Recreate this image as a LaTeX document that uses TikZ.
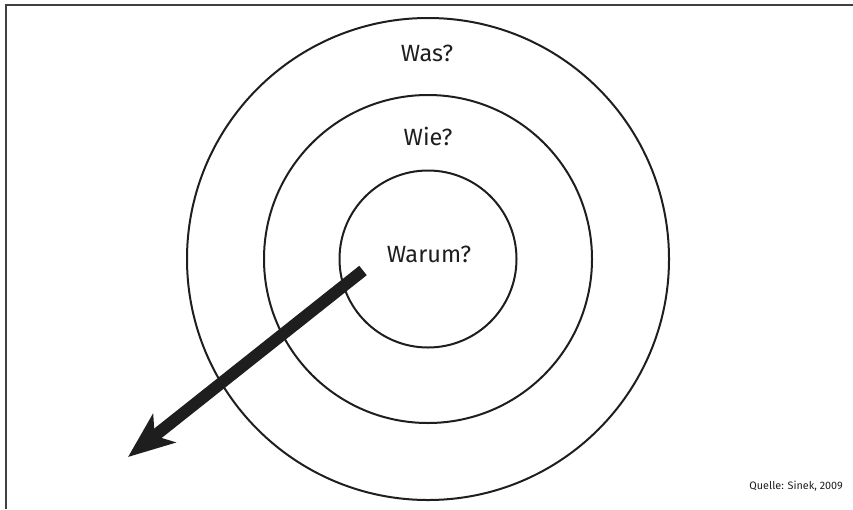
\documentclass[tikz,border=0pt]{standalone}
\usepackage{fontspec}
\setmainfont{Fira Sans}
\usetikzlibrary{arrows.meta}
\definecolor{ink}{HTML}{1E1E1E}
\begin{document}
\begin{tikzpicture}[x=1pt,y=-1pt,
  ring/.style={draw=ink, line width=2pt},
  frame/.style={draw=ink!85, line width=1.6pt},
  lbl/.style={text=ink, font=\fontsize{23.5}{26}\selectfont, inner sep=0pt},
  note/.style={text=ink, font=\fontsize{10.8}{12}\selectfont, inner sep=0pt, anchor=east},
  bigarrow/.style={draw=ink, line width=12pt, -{Stealth[length=46pt, width=36pt, inset=12pt]}}]
\useasboundingbox (0,0) rectangle (853,509);
\coordinate (c) at (428,259);
\draw[ring] (c) circle[radius=241];
\draw[ring] (c) circle[radius=164];
\draw[ring] (c) circle[radius=88.5];
\coordinate (fl) at (6,509);
\coordinate (ftl) at (6,5);
\coordinate (fr) at (853,5);
\draw[frame] (fl) -- (ftl) -- (fr);
\node[lbl] (was) at (427,53) {Was?};
\node[lbl] (wie) at (428,136) {Wie?};
\node[lbl] (warum) at (429,254) {Warum?};
\node[note] (q) at (843,486) {Quelle: Sinek, 2009};
\coordinate (s) at (363,270.5);
\coordinate (t) at (128,457);
\draw[bigarrow] (s) -- (t);
\end{tikzpicture}
\end{document}
